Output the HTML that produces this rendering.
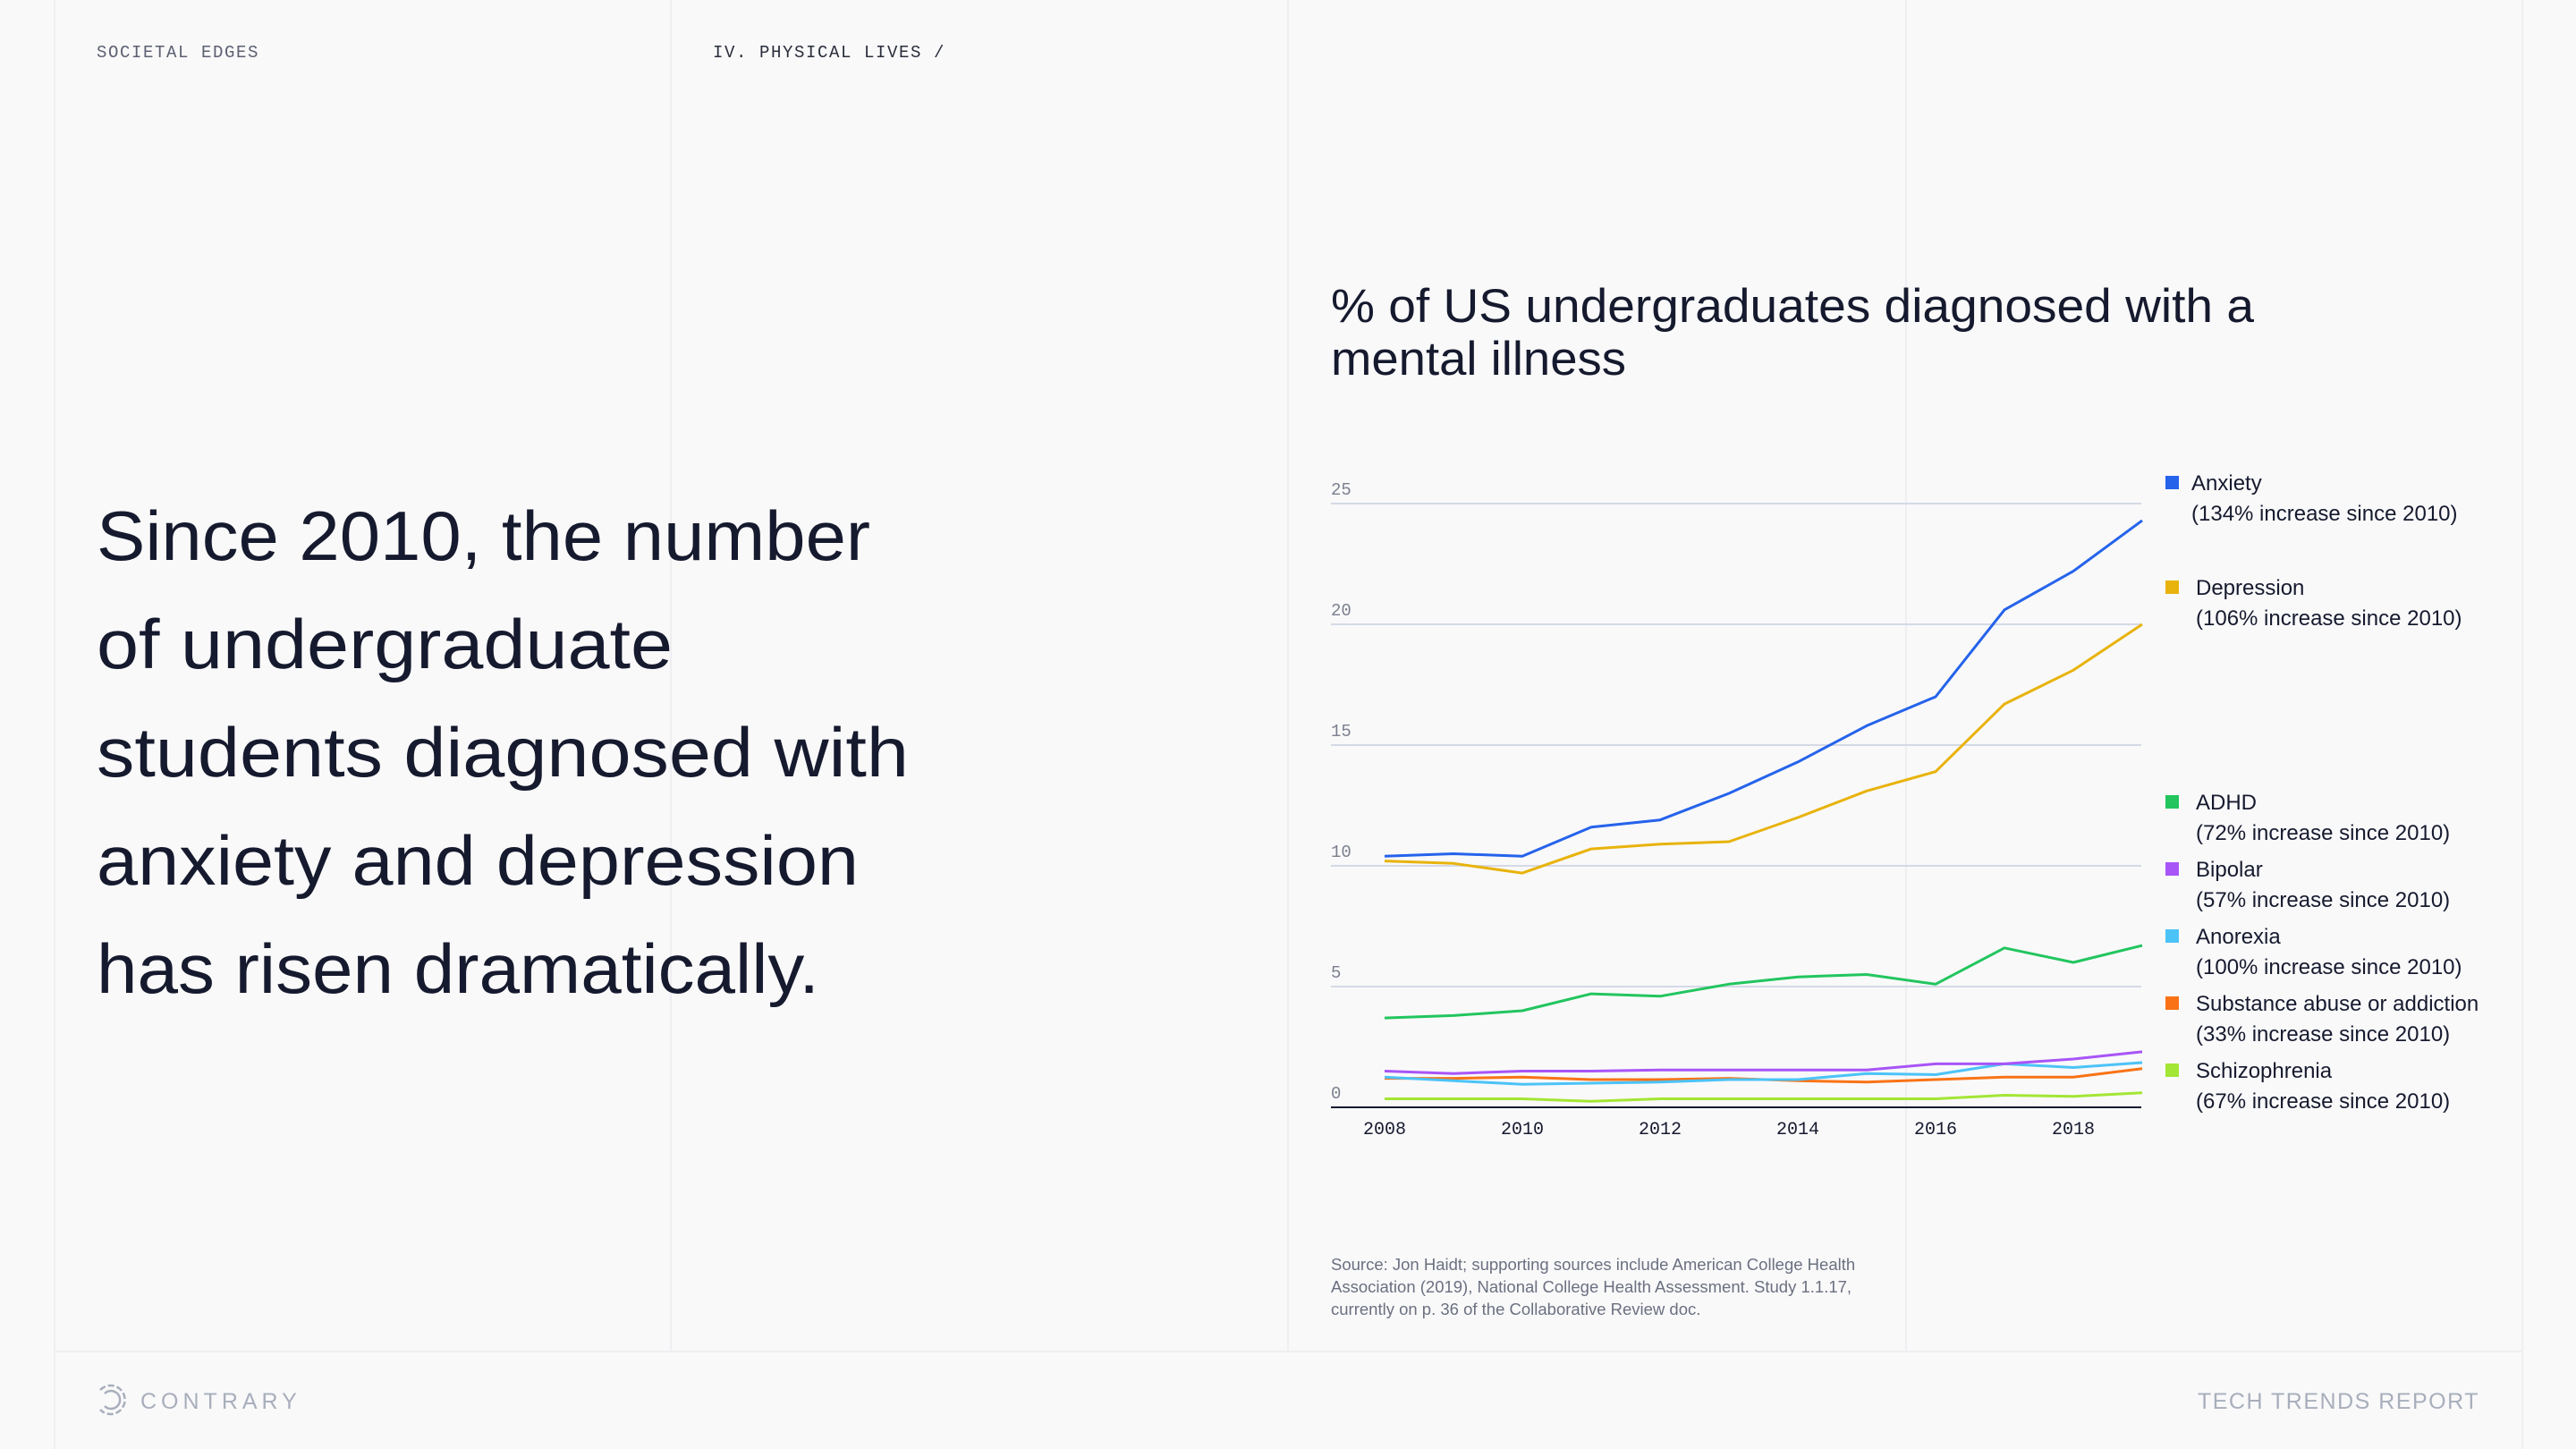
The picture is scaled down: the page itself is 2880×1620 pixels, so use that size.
<!DOCTYPE html>
<html><head><meta charset="utf-8"><style>
html,body{margin:0;padding:0;background:#f9f9fa;}
svg{display:block;font-family:"Liberation Sans",sans-serif;}
</style></head><body>
<svg width="2880" height="1620" viewBox="0 0 2880 1620">
<rect width="2880" height="1620" fill="#f9f9fa"/>
<g stroke="#efeff2" stroke-width="2">
<line x1="61" y1="0" x2="61" y2="1620"/><line x1="750" y1="0" x2="750" y2="1510"/><line x1="1440" y1="0" x2="1440" y2="1510"/><line x1="2131" y1="0" x2="2131" y2="1510"/><line x1="2820" y1="0" x2="2820" y2="1620"/>
<line x1="61" y1="1511" x2="2820" y2="1511"/>
</g>
<text x="108" y="64" font-family="Liberation Mono,monospace" font-size="19" letter-spacing="1.6" fill="#5c6070">SOCIETAL EDGES</text>
<text x="797" y="64" font-family="Liberation Mono,monospace" font-size="19" letter-spacing="1.6" fill="#2a2e3a">IV. PHYSICAL LIVES /</text>
<g font-size="78" fill="#161a2e">
<text x="108" y="626" textLength="865" lengthAdjust="spacingAndGlyphs">Since 2010, the number</text>
<text x="108" y="747" textLength="644" lengthAdjust="spacingAndGlyphs">of undergraduate</text>
<text x="108" y="868" textLength="908" lengthAdjust="spacingAndGlyphs">students diagnosed with</text>
<text x="108" y="989" textLength="852" lengthAdjust="spacingAndGlyphs">anxiety and depression</text>
<text x="108" y="1110" textLength="808" lengthAdjust="spacingAndGlyphs">has risen dramatically.</text>
</g>
<g font-size="53" fill="#161a2e">
<text x="1488" y="360" textLength="1032" lengthAdjust="spacingAndGlyphs">% of US undergraduates diagnosed with a</text>
<text x="1488" y="419" textLength="330" lengthAdjust="spacingAndGlyphs">mental illness</text>
</g>
<g id="chart"></g>
<g id="legend"></g>
<g font-size="18.5" fill="#6b7080">
<text x="1488" y="1420">Source: Jon Haidt; supporting sources include American College Health</text>
<text x="1488" y="1445">Association (2019), National College Health Assessment. Study 1.1.17,</text>
<text x="1488" y="1470">currently on p. 36 of the Collaborative Review doc.</text>
</g>
<g fill="none" stroke="#a8aebb" stroke-width="2.5">
<path d="M112 1554 A16 16 0 1 1 112 1576" stroke-dasharray="7 3"/>
<path d="M117 1558 A10 10 0 1 1 117 1572"/>
</g>
<text x="157" y="1575" font-size="25" letter-spacing="5" fill="#a8aebb">CONTRARY</text>
<text x="2772" y="1575" font-size="25" letter-spacing="1.5" text-anchor="end" fill="#a8aebb">TECH TRENDS REPORT</text>
</svg>
<script>
const years=[2008,2009,2010,2011,2012,2013,2014,2015,2016,2017,2018,2019];
const xTickLabels=[2008,2010,2012,2014,2016,2018];
const yTickLabels=[0,5,10,15,20,25];
const anxiety=[10.4,10.5,10.4,11.6,11.9,13.0,14.3,15.8,17.0,20.6,22.2,24.3];
const depression=[10.2,10.1,9.7,10.7,10.9,11.0,12.0,13.1,13.9,16.7,18.1,20.0];
const adhd=[3.7,3.8,4.0,4.7,4.6,5.1,5.4,5.5,5.1,6.6,6.0,6.7];
const bipolar=[1.5,1.4,1.5,1.5,1.55,1.55,1.55,1.55,1.8,1.8,2.0,2.3];
const anorexia=[1.25,1.1,0.95,1.0,1.05,1.15,1.15,1.4,1.35,1.8,1.65,1.85];
const substance=[1.2,1.2,1.25,1.15,1.15,1.2,1.1,1.05,1.15,1.25,1.25,1.6];
const schizophrenia=[0.35,0.35,0.35,0.25,0.35,0.35,0.35,0.35,0.35,0.5,0.45,0.6];
const seriesNames=["Anxiety","Depression","ADHD","Bipolar","Anorexia","Substance abuse or addiction","Schizophrenia"];
const seriesNotes=["(134% increase since 2010)","(106% increase since 2010)","(72% increase since 2010)","(57% increase since 2010)","(100% increase since 2010)","(33% increase since 2010)","(67% increase since 2010)"];
const seriesData=[anxiety,depression,adhd,bipolar,anorexia,substance,schizophrenia];
const colors=["#2563eb","#e8b30c","#22c55e","#a855f7","#4cc3f7","#f97316","#a3e635"];
const legendY=[540,657,897,972,1047,1122,1197];
const NS="http://www.w3.org/2000/svg";
const X0=1488,X1=2394,Y0=1238,PPU=27;
function xs(yr){return 1548+(yr-2008)*77.0;}
function ys(v){return Y0-v*PPU;}
const chart=document.getElementById('chart');
function mk(tag,attrs,parent){const e=document.createElementNS(NS,tag);for(const k in attrs)e.setAttribute(k,attrs[k]);parent.appendChild(e);return e;}
yTickLabels.forEach(v=>{
 if(v>0){const g=mk('line',{x1:X0,x2:X1,y1:ys(v),y2:ys(v),stroke:'#d5d9e6','stroke-width':2},chart);
 
 }
 const t=mk('text',{x:X0,y:ys(v)-10,'font-size':19,fill:'#7a7f8e','font-family':'Liberation Mono,monospace'},chart);
 t.textContent=v;
 
 
});
const ax=mk('line',{x1:X0,x2:X1,y1:Y0,y2:Y0,stroke:'#161a2e','stroke-width':2},chart);


xTickLabels.forEach(yr=>{
 const t=mk('text',{x:xs(yr),y:1268,'font-size':20,fill:'#161a2e','text-anchor':'middle','font-family':'Liberation Mono,monospace'},chart);
 t.textContent=yr;
 
 
});
for(let s=seriesData.length-1;s>=0;s--){
 const pts=seriesData[s].map((v,i)=>xs(years[i]).toFixed(1)+','+ys(v).toFixed(1)).join(' ');
 const p=mk('polyline',{points:pts,fill:'none',stroke:colors[s],'stroke-width':3,'stroke-linejoin':'round'},chart);
 
 
}
const lg=document.getElementById('legend');
seriesNames.forEach((n,i)=>{
 const g=mk('g',{},lg);
 
 
 mk('rect',{x:2421,y:legendY[i]-8,width:15,height:15,fill:colors[i]},g);
 const tx=i===0?2450:2455;
 const t1=mk('text',{x:tx,y:legendY[i]+8,'font-size':24,fill:'#161a2e'},g);t1.textContent=n;
 const t2=mk('text',{x:tx,y:legendY[i]+42,'font-size':24,fill:'#161a2e'},g);t2.textContent=seriesNotes[i];
});
</script>
</body></html>
